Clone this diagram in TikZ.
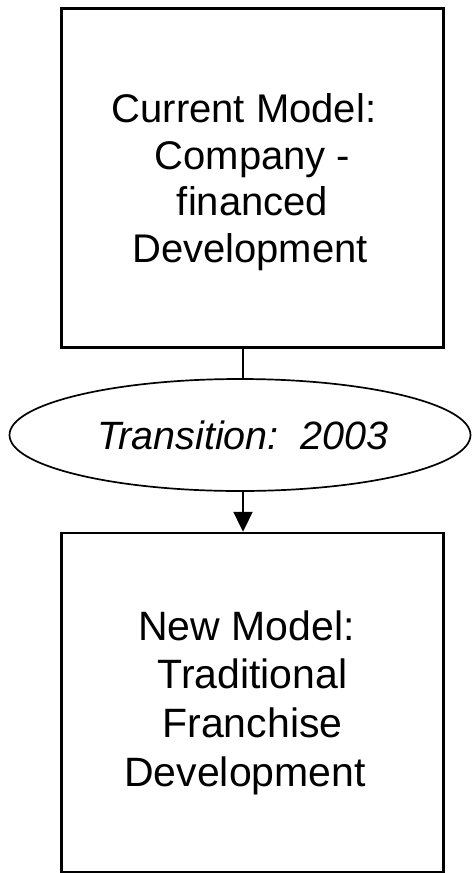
\documentclass[tikz,border=0pt]{standalone}
\usepackage{fontspec}
\setmainfont{Liberation Sans}
\usetikzlibrary{shapes.geometric,arrows.meta}
\begin{document}
\begin{tikzpicture}[x=1pt,y=-1pt,
  modelbox/.style={draw, line width=2.4pt, rectangle, minimum width=382pt,
    minimum height=339pt, inner sep=0pt, align=center},
  phase/.style={draw, line width=1.7pt, ellipse, minimum width=461pt,
    minimum height=112pt, inner sep=0pt},
  link/.style={line width=2pt}]
\useasboundingbox (0,0) rectangle (472,873);

% the two business models
\node[modelbox, text depth=0pt, font=\fontsize{40}{46.5}\selectfont] (current) at (252.5,178)
  {Current Model:\hspace*{17pt}\\Company -\hspace*{3pt}\\financed\\Development\hspace*{5pt}};
\node[modelbox, font=\fontsize{41}{48.7}\selectfont] (new) at (252.5,702.5)
  {New Model:\hspace*{12pt}\\Traditional\hspace*{13pt}\\Franchise\hspace*{4pt}\\Development\hspace*{15pt}};

% transition stage
\node[phase, font=\fontsize{39.5}{46}\selectfont\itshape] (phase) at (240,435)
  {\hspace*{6pt}Transition:\ \ 2003};

% connectors
\coordinate (jx) at (243,0);
\draw[link] (current.south -| jx) -- (phase.north -| jx);
\draw[link, -{Triangle[length=20pt,width=19pt]}] (phase.south -| jx) -- (new.north -| jx);
\end{tikzpicture}
\end{document}
